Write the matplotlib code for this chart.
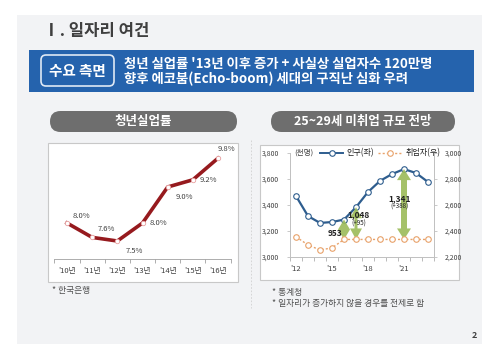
import numpy as np
import matplotlib
matplotlib.use("Agg")
import matplotlib.pyplot as plt
from matplotlib.patches import FancyBboxPatch, Rectangle, Polygon
from matplotlib.lines import Line2D

plt.rcParams['font.family'] = ['Noto Sans CJK KR', 'DejaVu Sans']

# ---- data ----
years_left = ["'10년", "'11년", "'12년", "'13년", "'14년", "'15년", "'16년"]
youth_unemp = [8.0, 7.6, 7.5, 8.0, 9.0, 9.2, 9.8]

years_right = list(range(2012, 2024))
xtick_years = [2012, 2015, 2018, 2021]
xtick_labels = ["'12", "'15", "'18", "'21"]
population = [3469, 3315, 3262, 3269, 3288, 3383, 3500, 3585, 3638, 3676, 3646, 3577]
employed = [2355, 2293, 2254, 2270, 2335, 2335, 2335, 2335, 2335, 2335, 2335, 2335]
gap_years = [2016, 2017, 2021]

W, H = 500, 344
fig = plt.figure(figsize=(W / 100, H / 100), dpi=100)
fig.patch.set_facecolor('white')

# background axes in pixel coords (y down)
bg = fig.add_axes([0, 0, 1, 1])
bg.set_xlim(0, W)
bg.set_ylim(H, 0)
bg.axis('off')


def pix_axes(x0, y0, x1, y1):
    return fig.add_axes([x0 / W, 1 - y1 / H, (x1 - x0) / W, (y1 - y0) / H])


# slide background
bg.add_patch(Rectangle((17, 15), 465, 329, facecolor='#f2f3f5', edgecolor='none'))
grad = np.linspace(0, 1, 200).reshape(1, -1)
bg.imshow(np.vstack([grad] * 2), extent=(17, 482, 50, 15), cmap=matplotlib.colors.LinearSegmentedColormap.from_list(
    'hdr', ['#d6e6f3', '#e8f0f8', '#f4f7fb']), aspect='auto', zorder=0.5)
bg.text(43, 31, 'Ⅰ. 일자리 여건', fontsize=12, fontweight='bold', color='#3f3f3f', va='center', ha='left')

# blue banner
bg.add_patch(Rectangle((29, 50), 445, 42, facecolor='#2563ad', edgecolor='none'))
bg.add_patch(FancyBboxPatch((41, 55), 73, 31, boxstyle='round,pad=0,rounding_size=5',
                            facecolor='none', edgecolor='#dfe9f5', linewidth=1.2))
bg.text(77.5, 71, '수요 측면', fontsize=10.5, fontweight='bold', color='white', ha='center', va='center')
bg.text(124, 64, "청년 실업률 '13년 이후 증가 + 사실상 실업자수 120만명", fontsize=9.6,
        fontweight='bold', color='white', va='center')
bg.text(124, 79, "향후 에코붐(Echo-boom) 세대의 구직난 심화 우려", fontsize=9.6,
        fontweight='bold', color='white', va='center')

# white panel
bg.add_patch(FancyBboxPatch((30, 80), 443, 240, boxstyle='round,pad=0,rounding_size=8',
                            facecolor='white', edgecolor='#d6d6d6', linewidth=1.0, zorder=0.8))
bg.add_patch(Rectangle((29, 92), 445, 10, facecolor='white', edgecolor='none', zorder=0.9))
bg.plot([251, 251], [140, 308], color='#d0d0d0', linewidth=0.6, linestyle=(0, (2, 2)))

# pills
for (x0, x1, label) in [(50, 237, '청년실업률'), (271, 455, '25~29세 미취업 규모 전망')]:
    bg.add_patch(FancyBboxPatch((x0, 111), x1 - x0, 21, boxstyle='round,pad=0,rounding_size=10.5',
                                facecolor='#6e6e6e', edgecolor='none'))
    bg.text((x0 + x1) / 2, 121.5, label, fontsize=9, fontweight='bold', color='white',
            ha='center', va='center')

# chart boxes
bg.add_patch(Rectangle((48, 143), 190, 139, facecolor='white', edgecolor='#c8c8c8', linewidth=0.8))
bg.add_patch(Rectangle((260, 145), 199, 135, facecolor='white', edgecolor='#c8c8c8', linewidth=0.8))

# footnotes
bg.text(52, 290, '* 한국은행', fontsize=6.3, color='#505050', va='center')
bg.text(272, 292, '* 통계청', fontsize=6.3, color='#505050', va='center')
bg.text(272, 303, '* 일자리가 증가하지 않을 경우를 전제로 함', fontsize=6.3, color='#505050', va='center')
bg.text(474, 336, '2', fontsize=6.5, fontweight='bold', color='#404040', ha='center', va='center')

# ---- left chart ----
axL = pix_axes(54.4, 151, 230.6, 259)
axL.patch.set_alpha(0)
xs = np.arange(len(youth_unemp))
axL.plot(xs, youth_unemp, color='#961a1e', linewidth=2.6, marker='o', markersize=3.2,
         markerfacecolor='white', markeredgecolor='#e8a0a0', markeredgewidth=0.6, zorder=3)
axL.set_xlim(-0.5, len(xs) - 0.5)
axL.set_ylim(7.0, 10.0)
for s in ['top', 'right', 'left']:
    axL.spines[s].set_visible(False)
axL.spines['bottom'].set_color('#a0a0a0')
axL.spines['bottom'].set_linewidth(0.6)
axL.set_yticks([])
axL.set_xticks(xs)
axL.set_xticklabels(years_left, fontsize=5.5, color='#404040')
axL.tick_params(axis='x', length=0, pad=6)
axL.set_xticks(np.arange(-0.5, len(xs), 1), minor=True)
axL.tick_params(axis='x', which='minor', length=3, color='#a0a0a0', width=0.6)
offsets = [(4, 2, 'left', 'bottom'), (4, 3, 'left', 'bottom'), (6, -4, 'left', 'top'),
           (5, 0, 'left', 'center'), (6, -4, 'left', 'top'), (5, 0, 'left', 'center'),
           (0, 4, 'left', 'bottom')]
for x, v, (dx, dy, ha, va) in zip(xs, youth_unemp, offsets):
    axL.annotate(f'{v:.1f}%', (x, v), xytext=(dx, dy), textcoords='offset points',
                 fontsize=5.5, color='#404040', ha=ha, va=va)

# ---- right chart ----
axR = pix_axes(290, 153, 434, 257)
axR.patch.set_alpha(0)
axR2 = axR.twinx()
axR.plot(years_right, population, color='#2e5d8e', linewidth=1.6, marker='o', markersize=4,
         markerfacecolor='white', markeredgecolor='#2e5d8e', markeredgewidth=0.8, zorder=4)
axR2.plot(years_right, employed, color='#e8a26a', linewidth=1.0, linestyle=(0, (1.5, 1.5)), marker='o',
          markersize=4, markerfacecolor='white', markeredgecolor='#e8a26a', markeredgewidth=0.8, zorder=4)
axR.set_xlim(years_right[0] - 0.5, years_right[-1] + 0.5)
axR.set_ylim(3000, 3800)
axR2.set_ylim(2200, 3000)
axR.set_yticks(range(3000, 3801, 200))
axR2.set_yticks(range(2200, 3001, 200))
axR.set_yticklabels([f'{v:,}' for v in range(3000, 3801, 200)], fontsize=5, color='#404040')
axR2.set_yticklabels([f'{v:,}' for v in range(2200, 3001, 200)], fontsize=5, color='#404040')
axR.set_xticks(xtick_years)
axR.set_xticklabels(xtick_labels, fontsize=5.5, color='#404040')
axR.tick_params(axis='x', length=0, pad=6)
axR.set_xticks(np.arange(years_right[0] - 0.5, years_right[-1] + 1, 1), minor=True)
axR.tick_params(axis='x', which='minor', length=3, color='#b0b0b0', width=0.6)
axR.tick_params(axis='y', length=2, color='#c0c0c0', width=0.6, pad=6)
axR2.tick_params(axis='y', length=2, color='#c0c0c0', width=0.6, pad=6)
for a in (axR, axR2):
    a.spines['top'].set_visible(False)
    for s in ['left', 'right', 'bottom']:
        a.spines[s].set_color('#c0c0c0')
        a.spines[s].set_linewidth(0.6)

# gap arrows (drawn on left scale: employed shifted by axis offset)
offset = 3000 - 2200
base_gap = None
for yr in gap_years:
    i = years_right.index(yr)
    lo = employed[i] + offset
    hi = population[i]
    gap = population[i] - employed[i]
    # convert to display px
    (px, plo) = axR.transData.transform((yr, lo))
    (_, phi) = axR.transData.transform((yr, hi))
    L = phi - plo
    hl = min(11, L / 2)
    hw = 7 if L > 40 else 6
    sw = 3 if L > 40 else 1.5
    pts = [(px, plo), (px + hw, plo + hl), (px + sw, plo + hl), (px + sw, phi - hl),
           (px + hw, phi - hl), (px, phi), (px - hw, phi - hl), (px - sw, phi - hl),
           (px - sw, plo + hl), (px - hw, plo + hl)]
    axR.add_patch(Polygon(pts, closed=True, transform=None, facecolor='#9bbb59',
                          edgecolor='none', alpha=0.9, zorder=5))
    if base_gap is None:
        base_gap = gap
        axR.annotate(f'{gap:,}', (yr, (lo + hi) / 2), xytext=(-1, -3), textcoords='offset points',
                     fontsize=6, fontweight='bold', color='#202020', ha='right', va='center', zorder=6)
    elif yr == 2017:
        axR.annotate(f'{gap:,}', (yr, (lo + hi) / 2), xytext=(2, 6), textcoords='offset points',
                     fontsize=6, fontweight='bold', color='#202020', ha='center', va='center', zorder=6)
        axR.annotate(f'(+{gap - base_gap})', (yr, (lo + hi) / 2), xytext=(2, 0), textcoords='offset points',
                     fontsize=4.5, color='#202020', ha='center', va='center', zorder=6)
    else:
        axR.annotate(f'{gap:,}', (yr, (lo + hi) / 2), xytext=(-3, 4), textcoords='offset points',
                     fontsize=6, fontweight='bold', color='#202020', ha='center', va='center', zorder=6)
        axR.annotate(f'(+{gap - base_gap})', (yr, (lo + hi) / 2), xytext=(-3, -2), textcoords='offset points',
                     fontsize=4.5, color='#202020', ha='center', va='center', zorder=6)

# legend (manual)
axR.text(0.03, 1.0, '(천명)', transform=axR.transAxes, fontsize=5.5, color='#404040', va='center')
axR.add_line(Line2D([0.21, 0.37], [1.0, 1.0], transform=axR.transAxes, color='#2e5d8e', linewidth=1.4,
                    clip_on=False))
axR.add_line(Line2D([0.29], [1.0], transform=axR.transAxes, color='#2e5d8e', marker='o', markersize=4,
                    markerfacecolor='white', markeredgewidth=0.8, clip_on=False))
axR.text(0.39, 1.0, '인구(좌)', transform=axR.transAxes, fontsize=5.8, color='#202020', va='center')
axR.add_line(Line2D([0.61, 0.78], [1.0, 1.0], transform=axR.transAxes, color='#e8a26a', linewidth=1.0,
                    linestyle=(0, (1.5, 1.5)), clip_on=False))
axR.add_line(Line2D([0.695], [1.0], transform=axR.transAxes, color='#e8a26a', marker='o', markersize=4,
                    markerfacecolor='white', markeredgewidth=0.8, clip_on=False))
axR.text(0.80, 1.0, '취업자(우)', transform=axR.transAxes, fontsize=5.8, color='#202020', va='center')

fig.savefig('out.png', dpi=100)
